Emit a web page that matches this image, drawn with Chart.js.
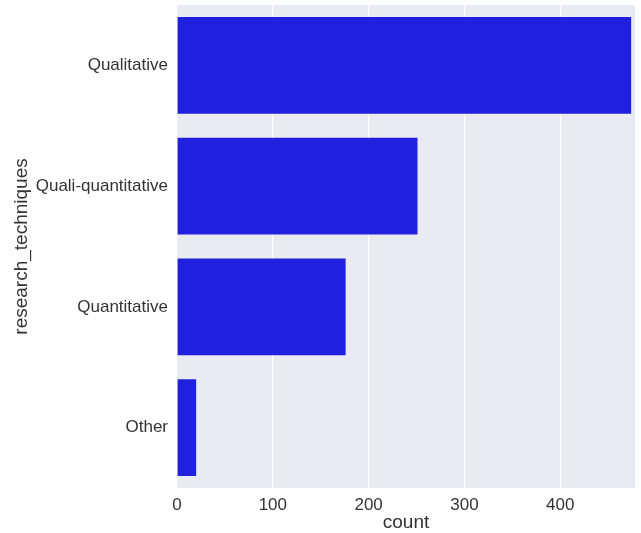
<!DOCTYPE html>
<html>
<head>
<meta charset="utf-8">
<script src="https://cdn.jsdelivr.net/npm/chart.js@4/dist/chart.umd.min.js"></script>
<style>
  html, body { margin: 0; padding: 0; background: #ffffff; }
  #wrap { width: 641px; height: 533px; }
</style>
</head>
<body>
<div id="wrap"><canvas id="barChart" width="641" height="533"></canvas></div>
<script>
const categories = ['Qualitative', 'Quali-quantitative', 'Quantitative', 'Other'];
const counts = [474, 251, 176, 20];
const xTicks = [0, 100, 200, 300, 400];

Chart.register({
    id: 'plotBackground',
    beforeDraw(chart) {
        const { ctx, chartArea } = chart;
        ctx.save();
        ctx.fillStyle = '#eaeaf2';
        ctx.fillRect(chartArea.left, chartArea.top, chartArea.right - chartArea.left, chartArea.bottom - chartArea.top);
        ctx.restore();
    }
});

document.addEventListener('DOMContentLoaded', function() {
    const ctx = document.getElementById('barChart').getContext('2d');

    new Chart(ctx, {
        type: 'bar',
        data: {
            labels: categories,
            datasets: [{
                data: counts,
                backgroundColor: '#2020df',
                borderWidth: 0,
                categoryPercentage: 0.8,
                barPercentage: 1.0
            }]
        },
        options: {
            indexAxis: 'y',
            responsive: false,
            animation: false,
            layout: { padding: { left: 10, top: 5, right: 6, bottom: 0 } },
            plugins: {
                legend: { display: false },
                tooltip: { enabled: false }
            },
            scales: {
                x: {
                    min: 0,
                    max: 478,
                    afterBuildTicks(scale) {
                        scale.ticks = xTicks.map(v => ({ value: v }));
                    },
                    afterFit(scale) {
                        scale.height = 45;
                        scale.paddingLeft = 0;
                        scale.paddingRight = 0;
                    },
                    grid: { color: '#ffffff', lineWidth: 1.2, drawTicks: false },
                    border: { display: false },
                    ticks: {
                        color: '#333333',
                        padding: 7,
                        font: { family: 'Liberation Sans, Arial, sans-serif', size: 17 }
                    },
                    title: {
                        display: true,
                        text: 'count',
                        color: '#333333',
                        padding: { top: 0, bottom: -1 },
                        font: { family: 'Liberation Sans, Arial, sans-serif', size: 19 }
                    }
                },
                y: {
                    afterFit(scale) {
                        scale.width = 167;
                        scale.paddingTop = 0;
                        scale.paddingBottom = 0;
                    },
                    grid: { display: false, drawTicks: false },
                    border: { display: false },
                    ticks: {
                        color: '#333333',
                        padding: 9,
                        font: { family: 'Liberation Sans, Arial, sans-serif', size: 17 }
                    },
                    title: {
                        display: true,
                        text: 'research_techniques',
                        color: '#333333',
                        padding: { top: 0, bottom: 0 },
                        font: { family: 'Liberation Sans, Arial, sans-serif', size: 19 }
                    }
                }
            }
        }
    });
});
</script>
</body>
</html>
